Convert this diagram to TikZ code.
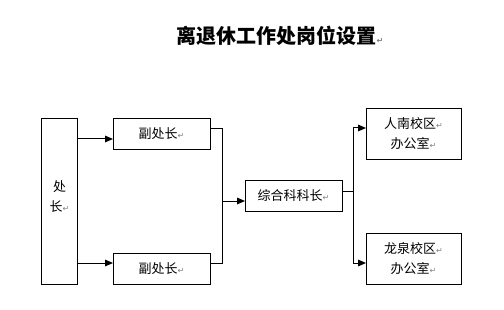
\documentclass[tikz,border=0pt]{standalone}
\usepackage{fontspec}
\newfontfamily\cjk{Noto Sans CJK SC}
\newfontfamily\symf{DejaVu Sans}
\usetikzlibrary{arrows.meta}
\newcommand{\retmark}{{\symf\fontsize{6pt}{6pt}\selectfont\textcolor{gray}{↵}}}
\begin{document}
\begin{tikzpicture}[x=0.75pt,y=-0.75pt,
  box/.style={draw,line width=0.75pt,inner sep=0pt,anchor=north west},
  txt/.style={font=\cjk\fontsize{9.75pt}{15pt}\selectfont,align=center},
  con/.style={line width=0.75pt},
  arr/.style={line width=0.75pt,-{Triangle[length=6pt,width=5pt]}}]
\useasboundingbox (0,0) rectangle (504,310);
% title
\node[font=\cjk\bfseries\fontsize{15pt}{18pt}\selectfont] (title) at (280,36) {离退休工作处岗位设置\retmark};
% boxes
\node[box,minimum width=36*0.75pt,minimum height=166*0.75pt] (chu) at (41,118) {};
\node[txt] (chut) at (59.5,197) {处\\长\retmark};
\node[box,minimum width=97*0.75pt,minimum height=31*0.75pt] (fu1) at (113,118) {};
\node[txt] (fu1t) at (161.5,133.5) {副处长\retmark};
\node[box,minimum width=97*0.75pt,minimum height=31*0.75pt] (fu2) at (113,253) {};
\node[txt] (fu2t) at (161.5,268.5) {副处长\retmark};
\node[box,minimum width=97*0.75pt,minimum height=31*0.75pt] (zh) at (245,180) {};
\node[txt] (zht) at (293.5,195.5) {综合科科长\retmark};
\node[box,minimum width=95*0.75pt,minimum height=51*0.75pt] (rn) at (366,108) {};
\node[txt] (rnt) at (413.5,134) {人南校区\retmark\\办公室\retmark};
\node[box,minimum width=95*0.75pt,minimum height=51*0.75pt] (lq) at (366,233) {};
\node[txt] (lqt) at (413.5,259) {龙泉校区\retmark\\办公室\retmark};
% coordinates
\coordinate (j1) at (222,128.5);
\coordinate (j2) at (222,263);
\coordinate (j3) at (222,201);
\coordinate (k0) at (353,191);
\coordinate (k1) at (353,128);
\coordinate (k2) at (353,263);
% connectors
\draw[arr] (chu.east |- 0,139) -- (fu1.west |- 0,139);
\draw[arr] (chu.east |- 0,263) -- (fu2.west |- 0,263);
\draw[con] (fu1.east |- j1) -- (j1) -- (j2) -- (fu2.east |- j2);
\draw[arr] (j3) -- (zh.west |- j3);
\draw[con] (zh.east |- k0) -- (k0);
\draw[con] (k1) -- (k2);
\draw[arr] (k1) -- (rn.west |- k1);
\draw[arr] (k2) -- (lq.west |- k2);
\end{tikzpicture}
\end{document}
